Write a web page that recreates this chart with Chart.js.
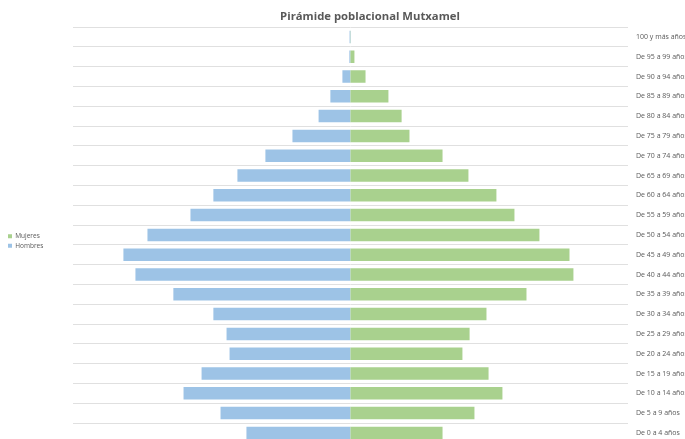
<!DOCTYPE html>
<html>
<head>
<meta charset="utf-8">
<script src="https://cdn.jsdelivr.net/npm/chart.js@4/dist/chart.umd.min.js"></script>
<style>
	html, body { margin: 0; padding: 0; background: #fff; overflow: hidden; }
	#wrap { position: relative; width: 685px; height: 455px; }
</style>
</head>
<body>
<div id="wrap"><canvas id="pyramid"></canvas></div>
<script>
// age groups, youngest first (axis is reversed so 100+ ends up on top)
const ageGroups = [
	"De 0 a 4 años", "De 5 a 9 años", "De 10 a 14 años", "De 15 a 19 años",
	"De 20 a 24 años", "De 25 a 29 años", "De 30 a 34 años", "De 35 a 39 años",
	"De 40 a 44 años", "De 45 a 49 años", "De 50 a 54 años", "De 55 a 59 años",
	"De 60 a 64 años", "De 65 a 69 años", "De 70 a 74 años", "De 75 a 79 años",
	"De 80 a 84 años", "De 85 a 89 años", "De 90 a 94 años", "De 95 a 99 años",
	"100 y más años",
];
const hombres = [450, 562, 722, 644, 523, 536, 593, 766, 930, 982, 878, 692, 593, 489, 368, 251, 138, 87, 35, 5, 4];
const mujeres = [398, 536, 657, 597, 484, 515, 588, 761, 964, 947, 817, 709, 631, 510, 398, 255, 221, 164, 65, 17, 1];
const axisMax = 1200;
const chartTitle = "Pirámide poblacional Mutxamel";

const FONT = "'Open Sans', sans-serif";
const GREY = "#595959";

// title sits over the plot, a bit right of the canvas centre like in Excel
const titlePlugin = {
	id: "pyramidTitle",
	afterDraw(chart) {
		const { ctx } = chart;
		ctx.save();
		ctx.font = `bold 11.3px ${FONT}`;
		ctx.fillStyle = GREY;
		ctx.textAlign = "center";
		ctx.textBaseline = "middle";
		ctx.fillText(chartTitle, 370, 17);
		ctx.restore();
	},
};

new Chart(document.getElementById("pyramid"), {
	type: "bar",
	data: {
		labels: ageGroups,
		datasets: [
			{
				label: "Mujeres",
				data: mujeres,
				backgroundColor: "#a9d18e",
				yAxisID: "y",
			},
			{
				label: "Hombres",
				data: hombres.map((v) => -v),
				backgroundColor: "#9dc3e6",
				yAxisID: "y",
			},
		],
	},
	options: {
		indexAxis: "y",
		responsive: true,
		maintainAspectRatio: false,
		animation: false,
		barPercentage: 0.63,
		categoryPercentage: 1,
		layout: { padding: { top: 27, left: 5, right: 0, bottom: 0 } },
		plugins: {
			title: { display: false },
			tooltip: {
				callbacks: {
					label: (c) => `${c.dataset.label}: ${Math.abs(c.raw)}`,
				},
			},
			legend: {
				position: "left",
				labels: {
					boxWidth: 4,
					boxHeight: 4,
					padding: 3,
					color: GREY,
					font: { family: FONT, size: 6.5 },
				},
			},
		},
		scales: {
			x: {
				stacked: true,
				min: -axisMax,
				max: axisMax,
				display: true,
				ticks: { display: false },
				grid: { display: false },
				border: { display: false },
				afterFit: (s) => { s.height = 10; },
			},
			y: {
				stacked: true,
				reverse: true,
				position: "right",
				grid: { color: "#e0e0e0", lineWidth: 1, drawTicks: false },
				border: { display: false },
				ticks: {
					autoSkip: false,
					padding: 8,
					color: GREY,
					font: { family: FONT, size: 7 },
				},
				afterFit: (s) => { s.width = 57; },
			},
			// empty spacer between the legend and the plot
			pad: {
				axis: "y",
				type: "linear",
				position: "left",
				display: true,
				ticks: { display: false },
				grid: { display: false },
				border: { display: false },
				afterFit: (s) => {
					const lw = s.chart.legend && s.chart.legend.width ? s.chart.legend.width : 40;
					s.width = Math.max(0, 73 - 5 - lw);
				},
			},
		},
	},
	plugins: [titlePlugin],
});
</script>
</body>
</html>
